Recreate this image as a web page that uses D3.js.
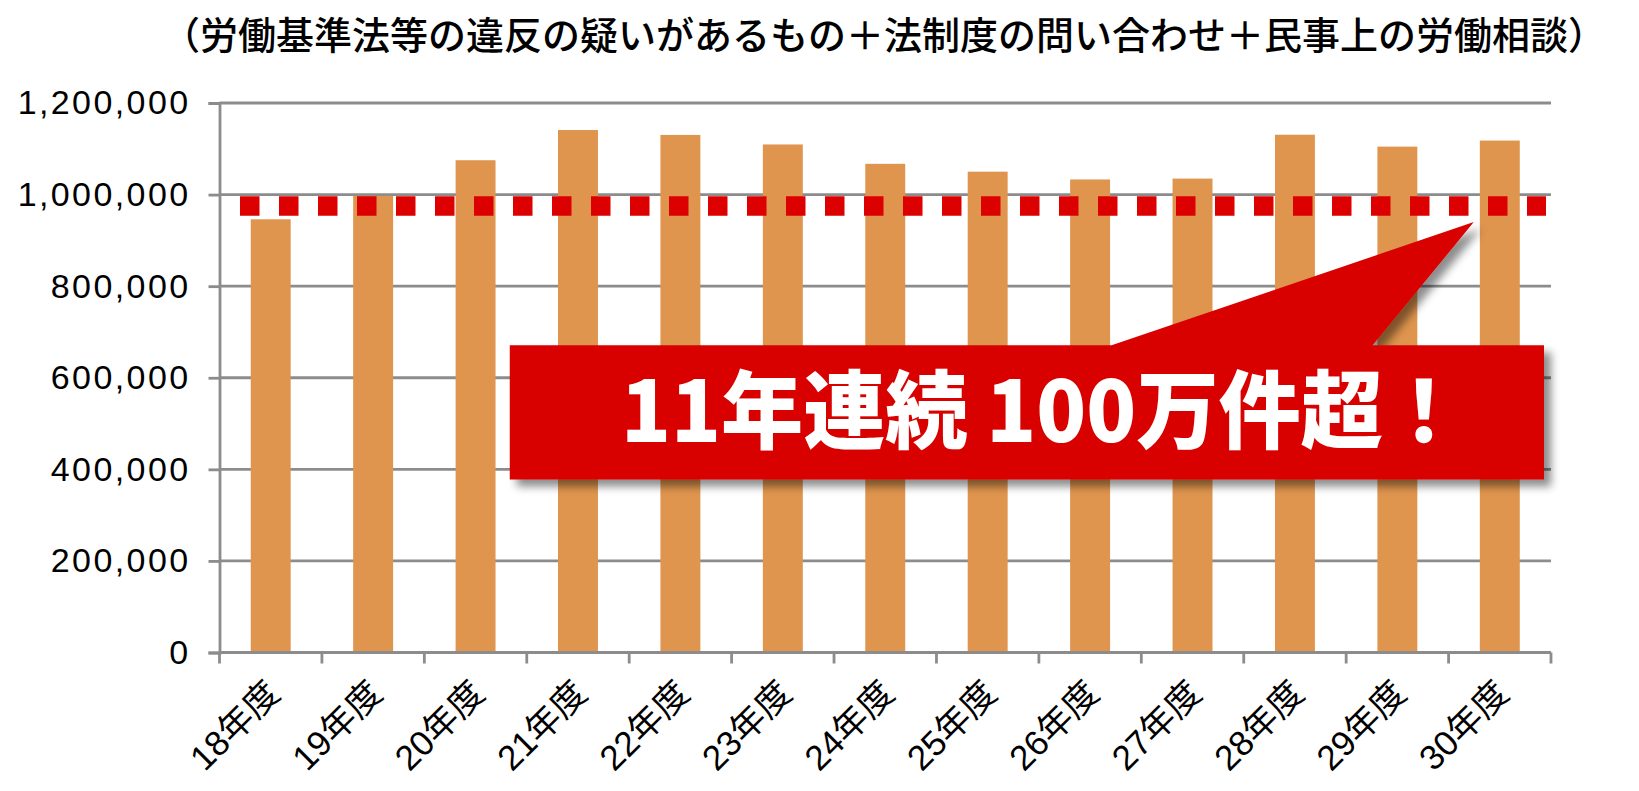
<!DOCTYPE html>
<html><head><meta charset="utf-8">
<script src="https://cdn.jsdelivr.net/npm/d3@7"></script>
<style>html,body{margin:0;padding:0;background:#fff;}svg{display:block;}</style>
</head><body>
<script>
const title = "（労働基準法等の違反の疑いがあるもの＋法制度の問い合わせ＋民事上の労働相談）";
const categories = ["18年度","19年度","20年度","21年度","22年度","23年度","24年度","25年度","26年度","27年度","28年度","29年度","30年度"];
const values = [946012, 997237, 1075021, 1141006, 1130234, 1109454, 1067210, 1050042, 1033047, 1034936, 1130741, 1104758, 1117983];
const yTicks = [0, 200000, 400000, 600000, 800000, 1000000, 1200000];
const thresholdValue = 975000;
const calloutText = "11年連続 100万件超！";

(function(){
const W = 1639, H = 791;
const pLeft = 219.5, pRight = 1551, pTop = 103, pBottom = 652.5;

const svg = d3.select("body").append("svg").attr("width", W).attr("height", H);
const defs = svg.append("defs");
const f = defs.append("filter").attr("id","shadow").attr("x","-10%").attr("y","-10%").attr("width","130%").attr("height","140%");
f.append("feDropShadow").attr("dx",7).attr("dy",7).attr("stdDeviation",4).attr("flood-color","#000").attr("flood-opacity",0.45);

const x = d3.scaleBand().domain(categories).range([pLeft, pRight]).paddingInner(0.61).paddingOuter(0.305);
const y = d3.scaleLinear().domain([0, 1200000]).range([pBottom, pTop]);
const gridColor = "#8c8c8c";

// title
svg.append("text").attr("x", 884).attr("y", 49)
  .attr("text-anchor","middle").attr("font-family","'Noto Sans CJK JP'").attr("font-weight",500)
  .attr("font-size",38).attr("textLength",1444).attr("lengthAdjust","spacingAndGlyphs")
  .attr("fill","#000").text(title);

// gridlines
svg.append("g").selectAll("line").data(yTicks.filter(d=>d>0)).join("line")
  .attr("x1", pLeft).attr("x2", pRight).attr("y1", d=>y(d)).attr("y2", d=>y(d))
  .attr("stroke", gridColor).attr("stroke-width", 2.8);

// y axis
const yAxis = d3.axisLeft(y).tickValues(yTicks).tickSize(11).tickPadding(18).tickFormat(d3.format(","));
const gy = svg.append("g").attr("transform", `translate(${pLeft},0)`).call(yAxis);
gy.select(".domain").attr("stroke", gridColor).attr("stroke-width", 2.8);
gy.selectAll(".tick line").attr("stroke", gridColor).attr("stroke-width", 2.8);
gy.selectAll(".tick text").attr("font-family","'Liberation Sans', Arial, sans-serif").attr("font-size",34)
  .attr("letter-spacing","2.4px").attr("fill","#000");

// bars
svg.append("g").selectAll("rect").data(values).join("rect")
  .attr("x", (d,i)=>x(categories[i])).attr("width", x.bandwidth())
  .attr("y", d=>y(d)).attr("height", d=>y(0)-y(d))
  .attr("fill", "#DF954E");

// x axis
const step = x.step();
const boundaries = d3.range(categories.length + 1).map(i => pLeft + i*step);
svg.append("line").attr("x1", pLeft).attr("x2", pRight).attr("y1", y(0)).attr("y2", y(0))
  .attr("stroke", gridColor).attr("stroke-width", 2.8);
svg.append("g").selectAll("line").data(boundaries).join("line")
  .attr("x1", d=>d).attr("x2", d=>d).attr("y1", y(0)).attr("y2", y(0)+11)
  .attr("stroke", gridColor).attr("stroke-width", 2.8);
svg.append("g").selectAll("text").data(categories).join("text")
  .attr("transform", d=>`translate(${x(d)+x.bandwidth()/2+11},${y(0)+43}) rotate(-45)`)
  .attr("text-anchor","end").attr("font-family","'Liberation Sans','Noto Sans CJK JP',sans-serif")
  .attr("font-size",35).attr("fill","#000").text(d=>d);

// threshold dashed line
svg.append("line").attr("x1", pLeft + 20.5).attr("x2", pRight - 5).attr("y1", y(thresholdValue)).attr("y2", y(thresholdValue))
  .attr("stroke", "#DC0000").attr("stroke-width", 19.5).attr("stroke-dasharray", "19.5 19.5");

// callout
const bx0 = pLeft + 0.218*(pRight-pLeft), bx1 = pRight - 7;
const by0 = y(671000), by1 = y(378000);
const tipX = pLeft + 0.942*(pRight-pLeft), tipY = y(940000);
const baseL = pLeft + 0.67*(pRight-pLeft), baseR = pLeft + 0.866*(pRight-pLeft);
const p = d3.path();
p.moveTo(bx0, by0); p.lineTo(baseL, by0); p.lineTo(tipX, tipY); p.lineTo(baseR, by0);
p.lineTo(bx1, by0); p.lineTo(bx1, by1); p.lineTo(bx0, by1); p.closePath();
svg.append("path").attr("d", p.toString()).attr("fill", "#D90000").attr("filter","url(#shadow)");
svg.append("text").attr("x", 1043).attr("y", 442)
  .attr("text-anchor","middle").attr("font-family","'Noto Sans CJK JP'").attr("font-weight",900)
  .attr("font-size",85).attr("textLength",844).attr("lengthAdjust","spacingAndGlyphs")
  .attr("fill","#fff").text(calloutText);
})();
</script>
</body></html>
